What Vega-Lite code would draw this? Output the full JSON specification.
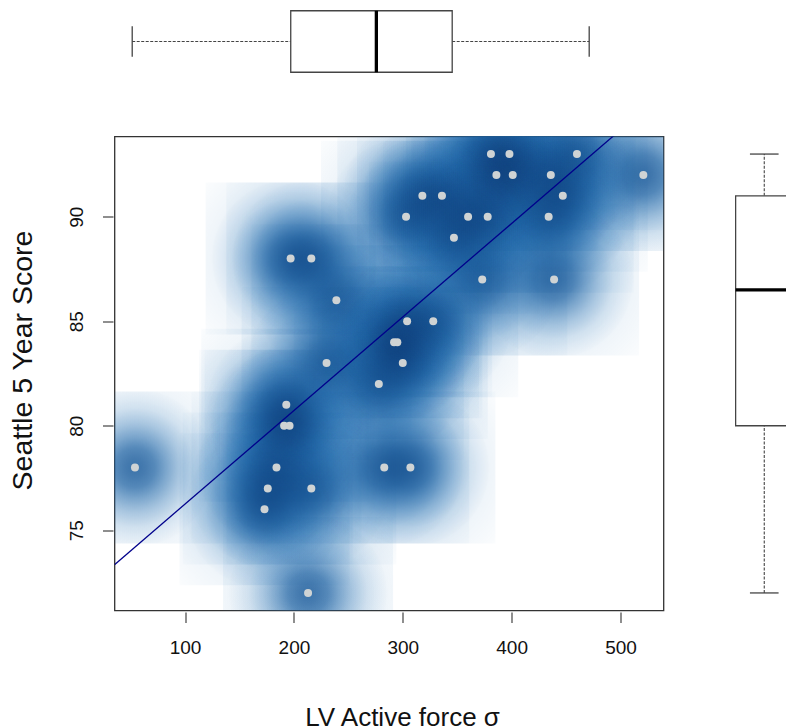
{
  "$schema": "https://vega.github.io/schema/vega-lite/v6.json",
  "padding": {"left": 7.5, "top": 0, "right": 0, "bottom": -3},
  "background": "white",
  "config": {
    "font": "Liberation Sans",
    "view": {"stroke": null},
    "axis": {"grid": false, "labelColor": "#111", "titleColor": "#111", "titleFontWeight": "normal"}
  },
  "datasets": {
    "pts": [
      {"x": 381, "y": 93}, {"x": 398, "y": 93}, {"x": 460, "y": 93},
      {"x": 386, "y": 92}, {"x": 401, "y": 92}, {"x": 436, "y": 92}, {"x": 521, "y": 92},
      {"x": 318, "y": 91}, {"x": 336, "y": 91}, {"x": 447, "y": 91},
      {"x": 303, "y": 90}, {"x": 360, "y": 90}, {"x": 378, "y": 90}, {"x": 434, "y": 90},
      {"x": 347, "y": 89},
      {"x": 197, "y": 88}, {"x": 216, "y": 88},
      {"x": 373, "y": 87}, {"x": 439, "y": 87},
      {"x": 239, "y": 86},
      {"x": 304, "y": 85}, {"x": 328, "y": 85},
      {"x": 292, "y": 84}, {"x": 295, "y": 84},
      {"x": 230, "y": 83}, {"x": 300, "y": 83},
      {"x": 278, "y": 82},
      {"x": 193, "y": 81},
      {"x": 191, "y": 80}, {"x": 196, "y": 80},
      {"x": 54, "y": 78}, {"x": 184, "y": 78}, {"x": 283, "y": 78}, {"x": 307, "y": 78},
      {"x": 176, "y": 77}, {"x": 216, "y": 77},
      {"x": 173, "y": 76},
      {"x": 213, "y": 72}
    ],
    "boxx": [{"lo": 54, "q1": 216, "med": 303.5, "q3": 381, "hi": 521}],
    "boxy": [{"lo": 72, "q1": 80, "med": 86.5, "q3": 91, "hi": 93}],
    "note": [{"main": "R=0.77, p=2.7x10", "sup": "-5"}]
  },
  "spacing": 52.5,
  "vconcat": [
    {
      "width": 493,
      "height": 83,
      "data": {"name": "boxx"},
      "layer": [
        {
          "mark": {"type": "rule", "color": "#444", "strokeWidth": 1.1, "strokeDash": [3, 1.5]},
          "encoding": {
            "x": {"field": "lo", "type": "quantitative", "scale": {"domain": [35.9, 539.7], "nice": false, "zero": false}, "axis": null},
            "x2": {"field": "q1"},
            "y": {"datum": 1, "type": "quantitative", "scale": {"domain": [0.46, 1.54], "nice": false, "zero": false}, "axis": null}
          }
        },
        {
          "mark": {"type": "rule", "color": "#444", "strokeWidth": 1.1, "strokeDash": [3, 1.5]},
          "encoding": {
            "x": {"field": "q3", "type": "quantitative"},
            "x2": {"field": "hi"},
            "y": {"datum": 1, "type": "quantitative"}
          }
        },
        {
          "mark": {"type": "rule", "color": "#444", "strokeWidth": 1.3},
          "encoding": {
            "x": {"field": "lo", "type": "quantitative"},
            "y": {"datum": 0.8, "type": "quantitative"},
            "y2": {"datum": 1.2}
          }
        },
        {
          "mark": {"type": "rule", "color": "#444", "strokeWidth": 1.3},
          "encoding": {
            "x": {"field": "hi", "type": "quantitative"},
            "y": {"datum": 0.8, "type": "quantitative"},
            "y2": {"datum": 1.2}
          }
        },
        {
          "mark": {"type": "rect", "fill": "white", "stroke": "#444", "strokeWidth": 1.3},
          "encoding": {
            "x": {"field": "q1", "type": "quantitative"},
            "x2": {"field": "q3"},
            "y": {"datum": 0.6, "type": "quantitative"},
            "y2": {"datum": 1.4}
          }
        },
        {
          "mark": {"type": "rule", "color": "black", "strokeWidth": 3.3},
          "encoding": {
            "x": {"field": "med", "type": "quantitative"},
            "y": {"datum": 0.6, "type": "quantitative"},
            "y2": {"datum": 1.4}
          }
        }
      ]
    },
    {
      "spacing": 61.1,
      "hconcat": [
        {
          "width": 549,
          "height": 474,
          "view": {"stroke": "#333", "strokeWidth": 1.3},
          "data": {"name": "pts"},
          "encoding": {
            "x": {
              "field": "x", "type": "quantitative",
              "scale": {"domain": [35.2, 539.5], "nice": false, "zero": false},
              "title": "LV Active force σ",
              "axis": {
                "values": [100, 200, 300, 400, 500],
                "domain": false, "offset": 1.5, "tickSize": 10.5, "tickColor": "#444", "tickWidth": 1.2,
                "labelFontSize": 19, "labelPadding": 16, "labelFlush": false,
                "titleFontSize": 26, "titlePadding": 46.5, "titleX": 287.5
              }
            },
            "y": {
              "field": "y", "type": "quantitative",
              "scale": {"domain": [71.16, 93.84], "nice": false, "zero": false},
              "title": "Seattle 5 Year Score",
              "axis": {
                "values": [75, 80, 85, 90],
                "domain": false, "offset": 1.5, "tickSize": 10.5, "tickColor": "#444", "tickWidth": 1.2,
                "labelFontSize": 19, "labelAngle": -90, "labelAlign": "center", "labelBaseline": "alphabetic", "labelPadding": 20.5,
                "titleFontSize": 28.5, "titlePadding": 29.3, "titleY": 223.5
              }
            }
          },
          "layer": [
            {
              "mark": {
                "type": "point", "shape": "M-1,-0.894L1,-0.894L1,0.894L-1,0.894Z", "size": 28900,
                "filled": true, "opacity": 1, "strokeWidth": 0, "clip": true,
                "fill": {
                  "gradient": "radial", "x1": 0.5, "y1": 0.5, "r1": 0, "x2": 0.5, "y2": 0.5, "r2": 0.7,
                  "stops": [
                    {"offset": 0, "color": "rgba(33,113,181,0.78)"},
                    {"offset": 0.168, "color": "rgba(33,113,181,0.68)"},
                    {"offset": 0.336, "color": "rgba(33,113,181,0.42)"},
                    {"offset": 0.504, "color": "rgba(33,113,181,0.2)"},
                    {"offset": 0.672, "color": "rgba(33,113,181,0.07)"},
                    {"offset": 1, "color": "rgba(33,113,181,0.01)"}
                  ]
                }
              }
            },
            {
              "mark": {
                "type": "point", "shape": "M-1,-0.894L1,-0.894L1,0.894L-1,0.894Z", "size": 28900,
                "filled": true, "opacity": 1, "strokeWidth": 0, "clip": true,
                "fill": {
                  "gradient": "radial", "x1": 0.5, "y1": 0.5, "r1": 0, "x2": 0.5, "y2": 0.5, "r2": 0.5,
                  "stops": [
                    {"offset": 0, "color": "rgba(8,48,107,0.3)"},
                    {"offset": 0.12, "color": "rgba(8,48,107,0.27)"},
                    {"offset": 0.24, "color": "rgba(8,48,107,0.19)"},
                    {"offset": 0.36, "color": "rgba(8,48,107,0.1)"},
                    {"offset": 0.53, "color": "rgba(8,48,107,0.03)"},
                    {"offset": 0.7, "color": "rgba(8,48,107,0.008)"},
                    {"offset": 1, "color": "rgba(8,48,107,0)"}
                  ]
                }
              }
            },
            {
              "transform": [{"regression": "y", "on": "x", "extent": [35.2, 539.5]}],
              "mark": {"type": "line", "color": "#00008b", "strokeWidth": 1.3, "clip": true}
            },
            {
              "mark": {"type": "circle", "size": 64, "color": "#cfd3d4", "opacity": 1}
            },
            {
              "data": {"name": "note"},
              "mark": {"type": "text", "align": "left", "baseline": "alphabetic", "fontSize": 31.5, "color": "black"},
              "encoding": {
                "x": {"datum": 254, "type": "quantitative"},
                "y": {"datum": 73.1, "type": "quantitative"},
                "text": {"field": "main"}
              }
            },
            {
              "data": {"name": "note"},
              "mark": {"type": "text", "align": "left", "baseline": "alphabetic", "fontSize": 22, "color": "black"},
              "encoding": {
                "x": {"datum": 485.8, "type": "quantitative"},
                "y": {"datum": 73.58, "type": "quantitative"},
                "text": {"field": "sup"}
              }
            }
          ]
        },
        {
          "width": 61,
          "height": 474,
          "data": {"name": "boxy"},
          "layer": [
            {
              "mark": {"type": "rule", "color": "#444", "strokeWidth": 1.1, "strokeDash": [3, 1.5]},
              "encoding": {
                "x": {"datum": 1, "type": "quantitative", "scale": {"domain": [0.46, 1.312], "nice": false, "zero": false}, "axis": null},
                "y": {"field": "q3", "type": "quantitative", "scale": {"domain": [71.16, 93.84], "nice": false, "zero": false}, "axis": null},
                "y2": {"field": "hi"}
              }
            },
            {
              "mark": {"type": "rule", "color": "#444", "strokeWidth": 1.1, "strokeDash": [3, 1.5]},
              "encoding": {
                "x": {"datum": 1, "type": "quantitative"},
                "y": {"field": "lo", "type": "quantitative"},
                "y2": {"field": "q1"}
              }
            },
            {
              "mark": {"type": "rule", "color": "#444", "strokeWidth": 1.3},
              "encoding": {
                "x": {"datum": 0.8, "type": "quantitative"},
                "x2": {"datum": 1.2},
                "y": {"field": "lo", "type": "quantitative"}
              }
            },
            {
              "mark": {"type": "rule", "color": "#444", "strokeWidth": 1.3},
              "encoding": {
                "x": {"datum": 0.8, "type": "quantitative"},
                "x2": {"datum": 1.2},
                "y": {"field": "hi", "type": "quantitative"}
              }
            },
            {
              "mark": {"type": "rect", "fill": "white", "stroke": "#444", "strokeWidth": 1.3, "clip": true},
              "encoding": {
                "x": {"datum": 0.6, "type": "quantitative"},
                "x2": {"datum": 1.4},
                "y": {"field": "q1", "type": "quantitative"},
                "y2": {"field": "q3"}
              }
            },
            {
              "mark": {"type": "rule", "color": "black", "strokeWidth": 3.3, "clip": true},
              "encoding": {
                "x": {"datum": 0.6, "type": "quantitative"},
                "x2": {"datum": 1.4},
                "y": {"field": "med", "type": "quantitative"}
              }
            }
          ]
        }
      ]
    }
  ]
}
